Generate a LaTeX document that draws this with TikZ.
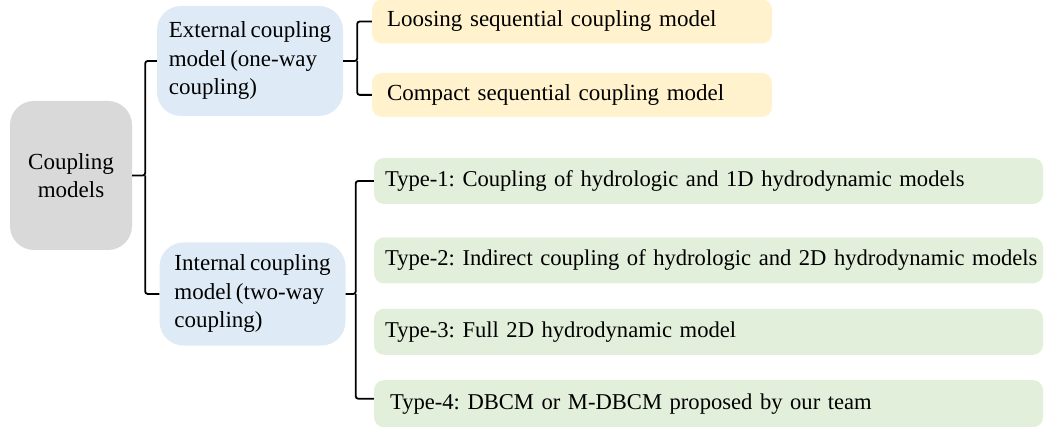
\documentclass[tikz,border=0pt]{standalone}
\usepackage{fontspec}
\setmainfont{Liberation Serif}[WordSpace=0.7]
\usetikzlibrary{positioning}
\definecolor{rootgrey}{HTML}{D9D9D9}
\definecolor{midblue}{HTML}{DEEBF7}
\definecolor{outorange}{HTML}{FFF2CC}
\definecolor{outgreen}{HTML}{E2EFDA}
\frenchspacing
\begin{document}
\begin{tikzpicture}[x=1pt, y=1pt,
		every node/.style={font=\fontsize{23}{28.5}\selectfont, text=black},
		root node/.style={fill=rootgrey, rounded corners=24pt, align=center,
			minimum width=122pt, minimum height=149pt, inner sep=0pt},
		mid node/.style={fill=midblue, rounded corners=24pt, align=left,
			minimum width=186pt, inner sep=0pt},
		out node/.style={rounded corners=10pt, align=left,
			inner ysep=0pt, minimum height=44pt},
		type node/.style={out node, fill=outgreen, inner xsep=11pt, text width=647pt,
			minimum height=46pt, font=\fontsize{22.6}{28}\selectfont},
		bracket/.style={draw, line width=1.8pt, rounded corners=2.5pt}]

		\useasboundingbox (0,0) rectangle (1046,-427);

		\node[root node] (cm) at (71,-175.5) {Coupling\\models};
		\node[mid node, minimum height=110pt] (ext) at (250,-61) {External coupling\\model (one-way\\coupling)};
		\node[mid node, minimum height=103pt] (int) at (252.5,-294) {Internal coupling\\model (two-way\\coupling)};

		\node[out node, fill=outorange, inner xsep=15pt, text width=370pt] (ls) at (572,-21.5) {Loosing sequential coupling model};
		\node[out node, fill=outorange, inner xsep=15pt, text width=370pt] (cs) [below=29pt of ls] {Compact sequential coupling model};

		\node[type node] (t1) at (708.5,-181) {Type-1: Coupling of hydrologic and 1D hydrodynamic models};
		\node[type node] (t2) [below=33pt of t1] {\mbox{Type-2: Indirect coupling of hydrologic and 2D hydrodynamic models}};
		\node[type node] (t3) [below=25pt of t2] {Type-3: Full 2D hydrodynamic model};
		\node[type node, minimum height=47pt] (t4) [below=25pt of t3] {\hspace*{5pt}Type-4: DBCM or M-DBCM proposed by our team};

		% brackets
		\draw[bracket] (cm.east) -- ++(13,0) coordinate (b1) |- (ext.west);
		\draw[bracket] (b1) |- (int.west);
		\draw[bracket] (ext.east) -- ++(14,0) coordinate (b2) |- (ls.west);
		\draw[bracket] (b2) |- (cs.west);
		\draw[bracket] (int.east) -- ++(10,0) coordinate (b3) |- (t1.west);
		\draw[bracket] (b3) |- ([yshift=5pt]t4.west);
	\end{tikzpicture}
\end{document}
